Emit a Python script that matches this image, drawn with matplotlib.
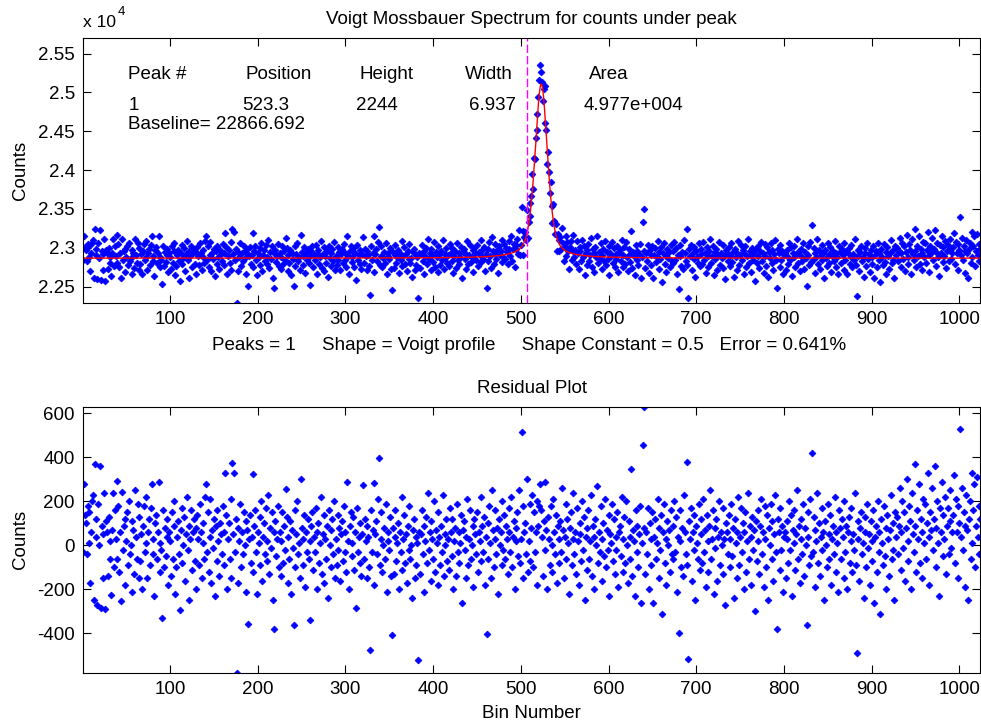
import numpy as np
import matplotlib
matplotlib.use("Agg")
import matplotlib.pyplot as plt
from matplotlib.ticker import FuncFormatter

plt.rcParams["font.family"] = ["Liberation Sans", "DejaVu Sans"]
plt.rcParams["font.size"] = 13.5
plt.rcParams["axes.unicode_minus"] = False

FS = 13.5

# -------------------------
# fit results (peakfit table)
# -------------------------
PEAK_NUM = 1
PEAK_POS = 523.3
PEAK_HEIGHT = 2244
PEAK_WIDTH = 6.937
PEAK_AREA = 4.977e4
BASELINE = 22866.692
SHAPE_CONST = 0.5
FIT_ERROR = 0.641
MARKER_BIN = 507          # dashed marker line
COUNTS_TOP = 25700

# residual = counts - fit, one value per bin, 32 bins per row
residual_rows = [
    [-30, 280, 140, 100, -40, 180, 10, 150, -170, 60, 200, 230, -250, 370, 40, 120, -270, 190, 0, 360, -285, 90, 50, -150, 240, -290, 110, 60, -140, 130, 20, -60],
    [-225, 70, 240, -100, 160, 30, -60, 293, 180, -120, 60, -255, 241, -20, 90, 120, -180, 20, 150, -90, 200, -40, 0, 110, -210, 70, -130, 250, 40, -60, 190, -150],
    [130, -70, 50, -200, 90, 180, -30, 220, 10, -150, 60, 120, -90, 170, 280, -40, 30, -230, 100, 140, -60, 60, 290, -120, 10, -20, -330, 160, -100, 80, -50, 40],
    [120, -180, 60, 20, -140, 150, -60, 90, 200, -220, -100, 40, 110, -40, -296, 70, 170, -80, 0, 130, -160, 50, 220, -20, 90, -250, 30, 160, -110, 60, 120, -70],
    [80, -200, 140, 30, -90, 190, 60, -150, 10, 100, -60, 220, 280, -30, 150, -120, 40, 210, -170, 70, -10, 120, -230, 90, 160, -70, 20, -140, 100, 50, -40, 180],
    [-90, 60, 327, 140, -200, 30, 100, -60, 210, -150, 375, 50, 330, -30, 120, -578, 80, -170, 20, 190, -100, 60, -40, 150, 0, -210, 110, 70, -358, 30, 140, -80],
    [40, 325, -120, 90, 160, -30, -220, 60, 10, 130, -90, 200, -160, 40, 100, -40, 170, -70, 20, 230, -130, 80, -10, 150, -250, 60, -380, 110, -50, 30, 180, -100],
    [60, -140, 20, 150, -80, 90, -20, 258, 130, -170, 40, -60, 110, -220, 70, -10, -360, 160, -100, 50, 200, -40, 10, -150, 300, 80, -90, 30, 140, -190, 60, -30],
    [120, -60, 20, -341, 90, 150, -110, 40, -30, 170, -200, 60, 100, -80, 10, 220, -130, 50, -170, 140, 30, -60, 90, -240, 160, 0, -100, 70, 120, -40, 200, -150],
    [30, -90, 140, -20, 80, -160, 50, 110, -70, 180, -30, 60, -120, 289, 20, -200, 90, 150, -50, 10, 130, -110, 60, -285, 170, -30, 40, -80, 100, -140, 50, 276],
    [-60, 120, 20, -150, 90, 40, -100, -474, 160, -30, 70, 283, -180, 50, 110, -40, 210, 397, -90, 30, 150, -120, 0, 80, -60, 190, -210, 60, 20, -20, 130, -140],
    [-409, 80, -130, 40, 160, -70, 10, 100, -200, 60, -30, 220, -110, 30, 140, -80, 50, -170, 90, -20, 180, -60, 0, -240, 70, 120, -150, 40, -90, 10, -520, 60],
    [-130, 50, 160, -40, 90, -210, 20, 130, -80, 240, -20, 60, -160, 110, 30, -60, 200, -120, 70, 10, -180, 150, 40, -90, 90, -30, 230, -140, 50, 0, 120, -70],
    [30, -110, 170, 60, -50, 120, -200, 20, 80, -140, 190, -30, 60, -80, 10, 140, -260, 70, 110, -20, -150, 40, 210, -90, 30, 160, -60, 0, 90, -190, 120, 50],
    [-40, 150, -120, 60, 20, 220, -70, 90, -30, 130, -180, 40, -404, 100, -60, 180, 10, -150, 250, 70, -100, 30, 160, -40, 80, -220, 120, 0, 60, -90, 200, -20],
    [140, -60, 90, 30, -130, 170, 60, -30, 220, -100, 40, 110, -200, 80, 20, 150, -50, 250, -80, 30, 515, 180, -150, 60, 100, -40, 300, -120, 20, 190, -70, 80],
    [230, -100, 150, -30, 60, 200, -180, 90, 180, 280, 160, 40, -140, 110, 290, -20, 70, -200, 130, 30, -90, 180, 0, -120, 210, 60, -40, 140, -170, 90, 30, -80],
    [110, -30, 260, 70, -150, 40, 190, -60, 120, 10, -220, 80, 150, -90, 30, 240, -40, 60, -130, 170, 20, -180, 100, 50, -70, 200, -20, 130, -250, 40, 80, -110],
    [160, -60, 20, 230, -140, 90, 40, -200, 120, 0, 270, -80, 60, -30, 180, -160, 30, 100, -50, 210, -100, 70, -20, 140, -230, 50, 10, 190, -70, 120, -130, 40],
    [-20, 150, -190, 60, 90, -50, 220, -120, 30, 130, -80, 200, 0, -170, 110, 40, -60, 347, -140, 70, 20, -230, 160, -30, 90, -100, 50, 180, -260, 10, 457, 80],
    [629, -130, 60, -40, 170, -200, 100, 30, -90, 150, -260, 40, 120, -60, 10, 210, -150, 80, -20, 140, -310, 60, 190, -80, 30, -180, 110, 0, 70, -120, 160, -40],
    [90, -60, 200, -30, 130, -210, 40, -400, 160, 20, -100, 80, -140, 230, 60, -40, 378, -90, -515, 110, 30, 170, -160, 60, -20, 140, -250, 90, 10, -60, 190, -110],
    [50, 120, -80, 210, -30, 70, -190, 140, 20, -120, 90, 250, -60, 30, 160, -220, 80, -10, 120, -160, 40, 200, -90, 60, 0, -130, 170, 30, -270, 100, 60, -40],
    [140, -100, 30, 190, -50, 80, -240, 120, 10, -150, 60, 220, -90, 40, 170, -30, 100, -200, 60, 150, -120, 20, 240, -60, 90, -180, 40, 130, -20, 70, -300, 110],
    [-70, 160, 20, -130, 90, 210, -40, 60, -190, 180, 30, -100, 140, -250, 80, 0, 190, -60, 110, -160, 50, 230, -30, -380, 120, 60, -110, 170, -20, 90, -210, 40],
    [60, -150, 110, 30, -80, 200, -20, 140, -230, 70, 10, 160, -110, 50, 250, -60, 90, -170, 30, 120, -40, 190, -140, 80, 0, -360, 150, 40, -90, 210, -50, 420],
    [-30, 130, -190, 70, 20, 240, -80, 100, -140, 40, 170, -20, 60, -250, 110, 0, -100, 190, 50, -60, 140, -180, 30, 90, -40, 220, -120, 60, 10, -210, 160, 80],
    [-60, 120, 40, -150, 200, -30, 90, -200, 60, 130, -80, 20, 170, -120, 50, -20, 240, -90, -490, 110, 30, -160, 80, 150, -40, 10, -240, 130, 60, -100, 190, -10],
    [50, -180, 110, 20, -70, 160, -260, 40, 90, -120, 200, -30, 60, -310, 120, 10, -90, 180, -50, 80, -200, 140, 30, -140, 70, 230, -60, 100, -20, -250, 150, 40],
    [130, -40, 90, 260, -110, 60, 200, -10, 150, -160, 80, 300, 20, -70, 180, 110, -200, 240, 50, -30, 370, 90, -120, 160, 30, 280, -80, 120, 60, -150, 210, 10],
    [190, -60, 100, 330, 40, -180, 150, 70, 260, -20, 120, 360, -100, 80, 200, 10, -230, 170, 60, 290, -50, 140, 30, 220, -130, 90, 170, -40, 250, 110, -10, 60],
    [140, 320, -80, 210, 60, 180, -150, 100, 530, 40, 260, -20, 150, 90, -190, 230, 70, -250, 120, 200, -60, 330, 10, 160, 280, -100, 90, 310, 40, -40, 180, 120],
]

x_ticks = [100, 200, 300, 400, 500, 600, 700, 800, 900, 1000]
count_ticks = [22500, 23000, 23500, 24000, 24500, 25000, 25500]
resid_ticks = [-400, -200, 0, 200, 400, 600]


def voigt_fit(x):
    """pseudo-Voigt peak on a flat baseline, FWHM taken from area / height"""
    g_norm = np.sqrt(np.pi / np.log(2)) / 2
    fwhm = PEAK_AREA / (PEAK_HEIGHT * (SHAPE_CONST * np.pi / 2 + (1 - SHAPE_CONST) * g_norm))
    d = (x - PEAK_POS) / fwhm
    gauss = np.exp(-4 * np.log(2) * d ** 2)
    lorentz = 1 / (1 + 4 * d ** 2)
    return BASELINE + PEAK_HEIGHT * (SHAPE_CONST * lorentz + (1 - SHAPE_CONST) * gauss)


def style_axes(ax):
    ax.tick_params(direction="in", top=True, right=True, length=6, width=0.8,
                   labelsize=FS, pad=6)
    for sp in ax.spines.values():
        sp.set_linewidth(0.8)


resid = np.array([v for row in residual_rows for v in row], dtype=float)
bins = np.arange(1, len(resid) + 1)
fit = voigt_fit(bins)
counts = fit + resid

W, H = 981, 725
fig = plt.figure(figsize=(W / 100, H / 100), dpi=100)
ax1 = fig.add_axes([83.3 / W, 1 - 303 / H, 897 / W, 265 / H])
ax2 = fig.add_axes([83.3 / W, 1 - 672.5 / H, 897 / W, 265.5 / H])

# -------------------------
# spectrum + fit
# -------------------------
ax1.plot(bins, counts, ls="none", marker="D", ms=3.5, color="#0000ff", mew=0.5)
ax1.plot(bins, fit, color="#ff0000", lw=1.0)
ax1.axvline(MARKER_BIN, color="#ff00ff", lw=1.0, dashes=(6, 2.2))
ax1.set_xlim(1, len(bins))
ax1.set_ylim(counts.min(), COUNTS_TOP)
ax1.set_xticks(x_ticks)
ax1.set_yticks(count_ticks)
ax1.yaxis.set_major_formatter(FuncFormatter(lambda v, p: "%g" % (v / 1e4)))
style_axes(ax1)
ax1.set_title("Voigt Mossbauer Spectrum for counts under peak", fontsize=FS, pad=10)
ax1.set_ylabel("Counts", fontsize=FS)
ax1.yaxis.set_label_coords(-0.06, 0.5)
# exponent label above the y axis
fig.text(83 / W, 1 - 27 / H, "x 10", fontsize=12.5, va="baseline")
fig.text(118 / W, 1 - 15 / H, "4", fontsize=9.5, va="baseline")

headers = ["Peak #", "Position", "Height", "Width", "Area"]
head_x = [0.0502, 0.181, 0.308, 0.425, 0.564]
values = [str(PEAK_NUM), "%.1f" % PEAK_POS, str(PEAK_HEIGHT), "%.3f" % PEAK_WIDTH, "4.977e+004"]
value_x = [0.0502, 0.1766, 0.304, 0.430, 0.558]
for s, xp in zip(headers, head_x):
    ax1.text(xp, 0.844, s, transform=ax1.transAxes, va="baseline", fontsize=FS)
for s, xp in zip(values, value_x):
    ax1.text(xp, 0.728, s, transform=ax1.transAxes, va="baseline", fontsize=FS)
ax1.text(0.0502, 0.657, "Baseline= %.3f" % BASELINE, transform=ax1.transAxes,
         va="baseline", fontsize=FS)

fig.text(529.5 / W, 1 - 350 / H,
         "Peaks = %d     Shape = Voigt profile     Shape Constant = %g   Error = %.3f%%"
         % (PEAK_NUM, SHAPE_CONST, FIT_ERROR),
         ha="center", va="baseline", fontsize=FS)

# -------------------------
# residuals
# -------------------------
ax2.plot(bins, resid, ls="none", marker="D", ms=3.5, color="#0000ff", mew=0.5)
ax2.set_xlim(1, len(bins))
ax2.set_ylim(resid.min(), resid.max())
ax2.set_xticks(x_ticks)
ax2.set_yticks(resid_ticks)
style_axes(ax2)
ax2.set_title("Residual Plot", fontsize=FS, pad=10)
ax2.set_ylabel("Counts", fontsize=FS)
ax2.yaxis.set_label_coords(-0.06, 0.5)
fig.text(531 / W, 1 - 718 / H, "Bin Number", ha="center", va="baseline", fontsize=FS)

fig.savefig("out.png", dpi=100)
